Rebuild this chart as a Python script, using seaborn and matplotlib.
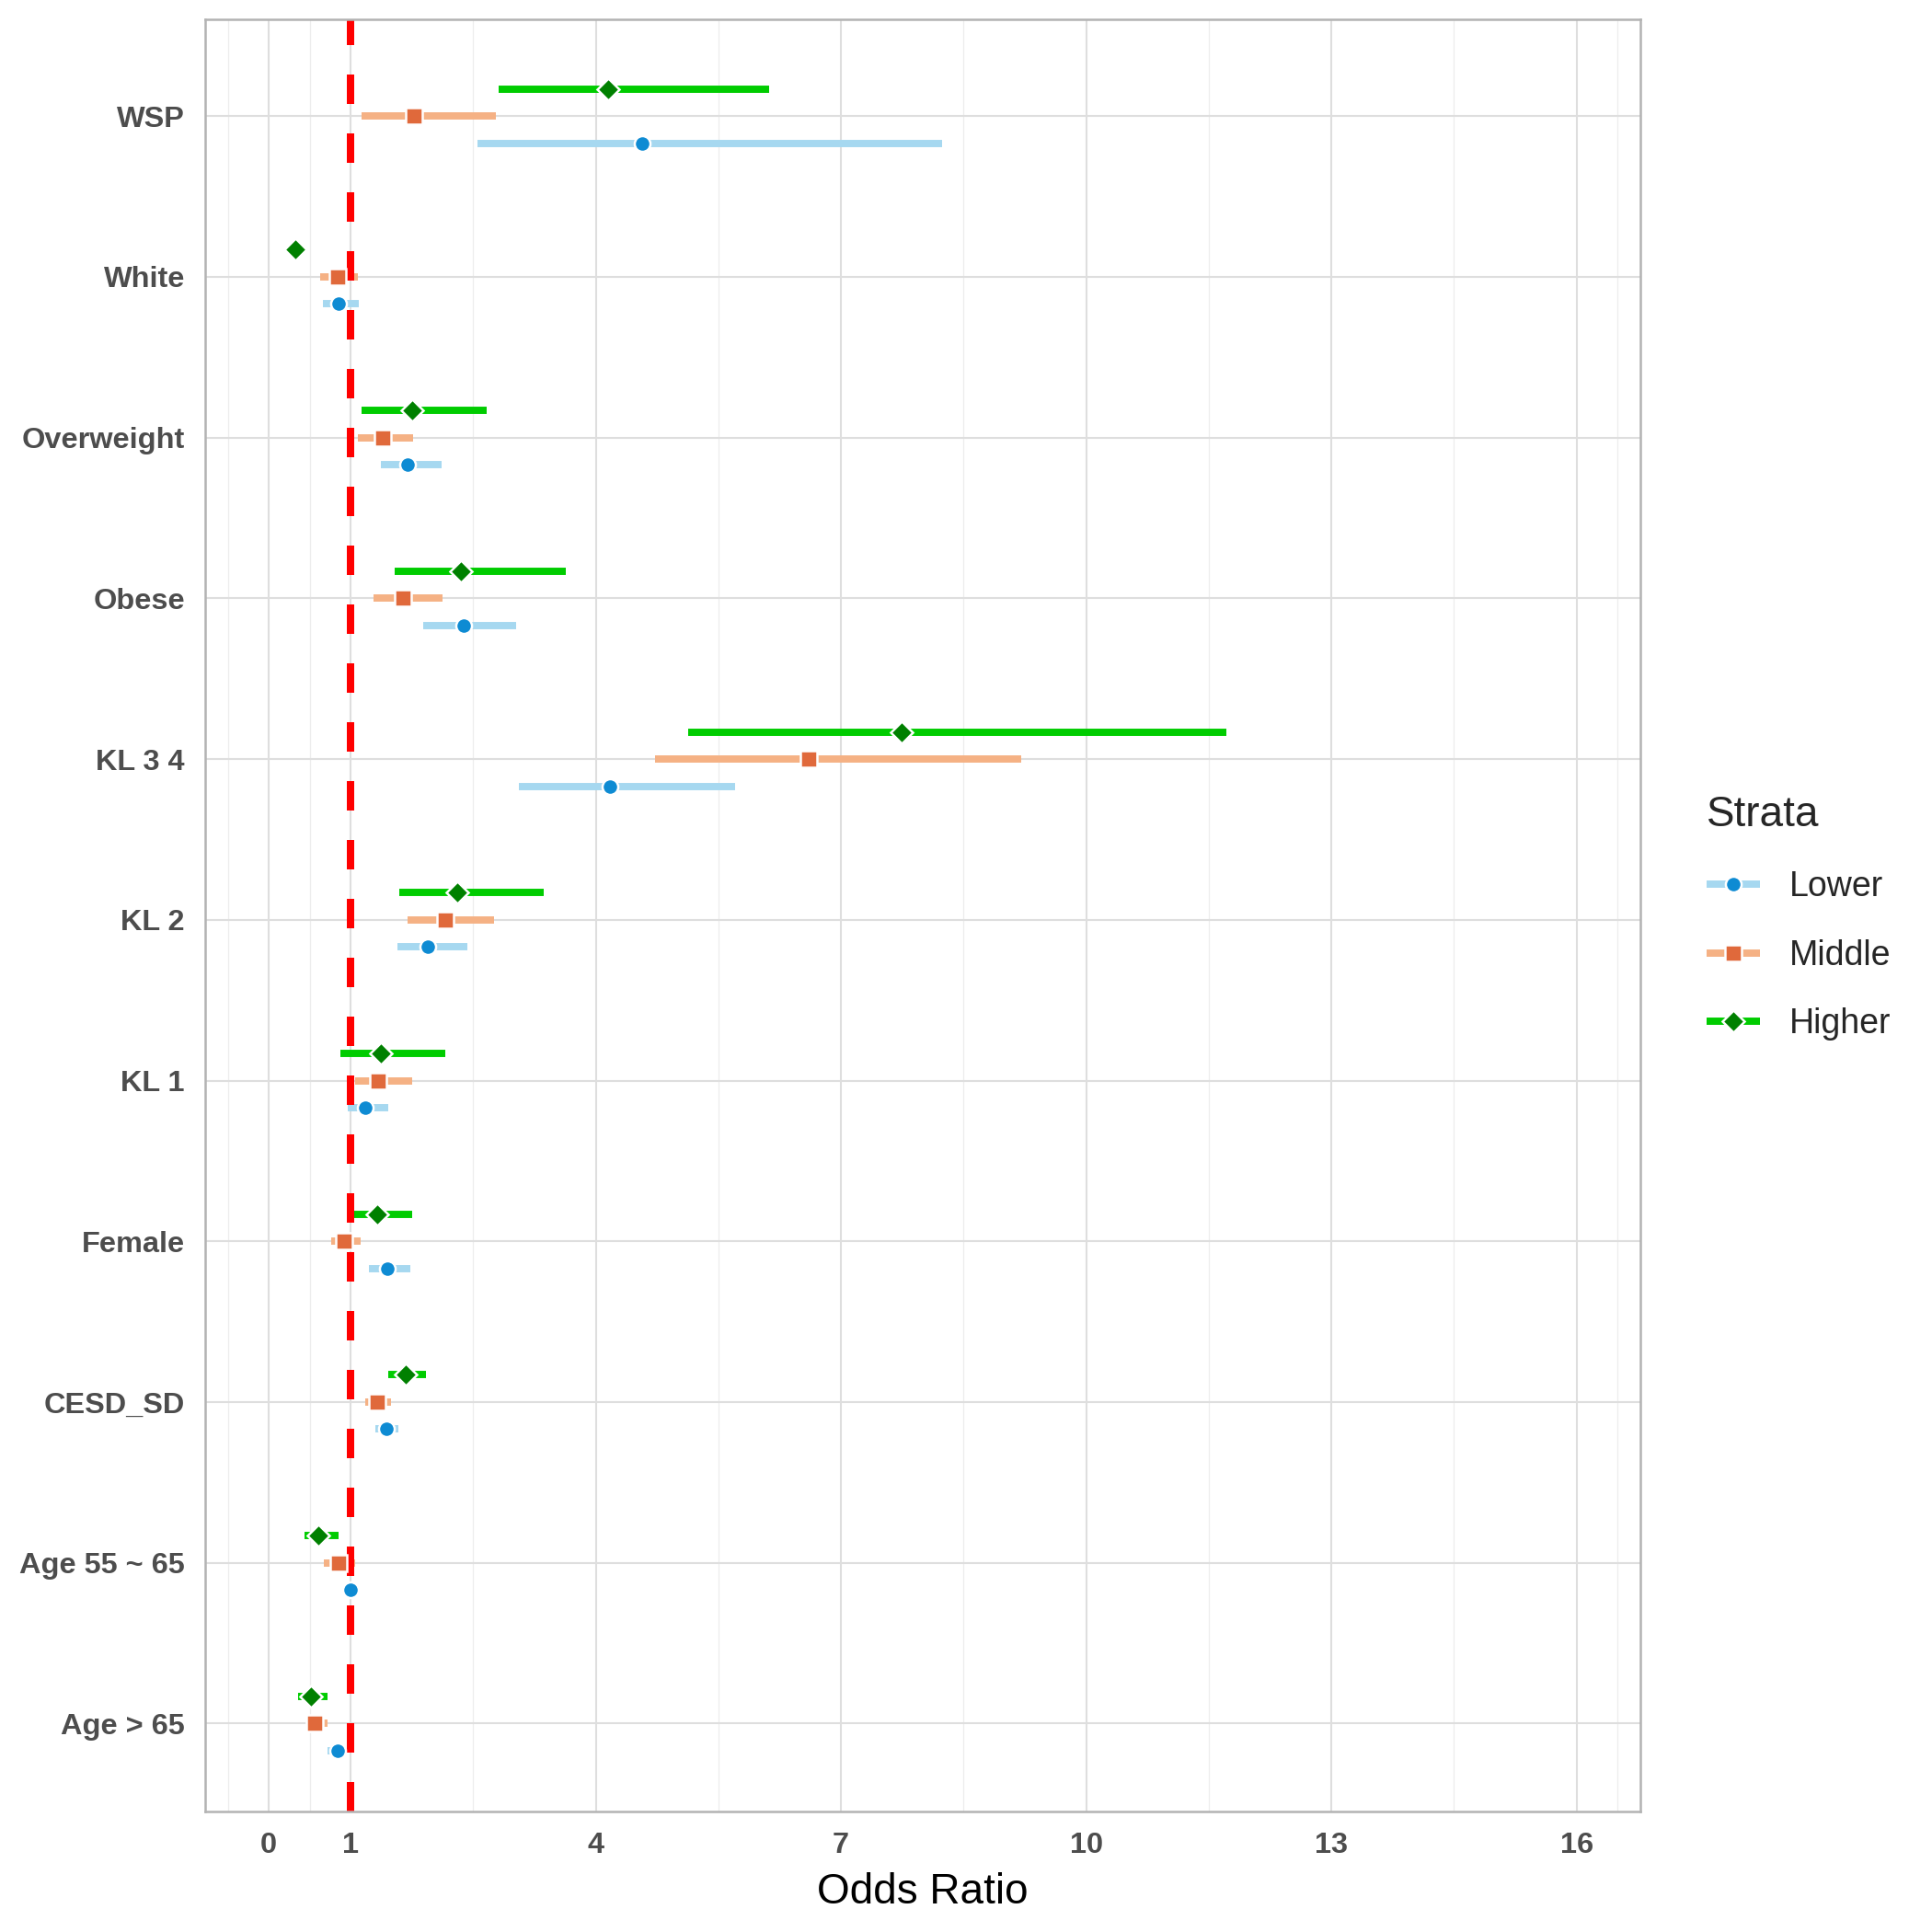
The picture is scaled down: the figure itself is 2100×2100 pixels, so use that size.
import numpy as np
import pandas as pd
import matplotlib
matplotlib.use('Agg')
import matplotlib.pyplot as plt
from matplotlib.lines import Line2D
import seaborn as sns

# ------------------------------------------------------------
# data: odds ratios with 95% CI
# ------------------------------------------------------------
variables = ["WSP", "White", "Overweight", "Obese", "KL 3 4", "KL 2",
             "KL 1", "Female", "CESD_SD", "Age 55 ~ 65", "Age > 65"]
strata = ["Lower", "Middle", "Higher"]

lower_or = [4.57, 0.85, 1.70, 2.38, 4.17, 1.95, 1.18, 1.45, 1.44, 1.00, 0.845]
lower_lo = [2.55, 0.66, 1.37, 1.89, 3.06, 1.57, 0.97, 1.22, 1.30, 0.95, 0.72]
lower_hi = [8.24, 1.10, 2.11, 3.03, 5.70, 2.43, 1.46, 1.73, 1.58, 1.05, 0.93]

middle_or = [1.78, 0.84, 1.39, 1.64, 6.60, 2.16, 1.34, 0.92, 1.33, 0.85, 0.565]
middle_lo = [1.13, 0.63, 1.09, 1.28, 4.72, 1.70, 1.06, 0.76, 1.18, 0.67, 0.48]
middle_hi = [2.78, 1.09, 1.76, 2.13, 9.20, 2.75, 1.75, 1.12, 1.49, 1.06, 0.72]

higher_or = [4.15, 0.32, 1.75, 2.35, 7.74, 2.31, 1.37, 1.33, 1.68, 0.61, 0.51]
higher_lo = [2.81, 0.27, 1.13, 1.54, 5.13, 1.60, 0.87, 1.03, 1.46, 0.44, 0.36]
higher_hi = [6.12, 0.38, 2.67, 3.63, 11.72, 3.36, 2.16, 1.75, 1.92, 0.85, 0.72]

x_ticks = [0, 1, 4, 7, 10, 13, 16]
x_minor = [-0.5, 0.5, 2.5, 5.5, 8.5, 11.5, 14.5, 16.5]

ci_colors = {"Lower": "#A6D8F0", "Middle": "#F5B184", "Higher": "#00CC00"}
pt_colors = {"Lower": "#0E8BD3", "Middle": "#E0693B", "Higher": "#008000"}
markers = {"Lower": "o", "Middle": "s", "Higher": "D"}

# long table: three rows (lo, or, hi) per variable/stratum
# -> median gives the OR, min/max gives the CI
rows = []
series = {"Lower": (lower_lo, lower_or, lower_hi),
          "Middle": (middle_lo, middle_or, middle_hi),
          "Higher": (higher_lo, higher_or, higher_hi)}
for name, (los, ors, his) in series.items():
    for v, l, o, h in zip(variables, los, ors, his):
        for val in (l, o, h):
            rows.append({"variable": v, "strata": name, "value": val})
df = pd.DataFrame(rows)

# ------------------------------------------------------------
# plot
# ------------------------------------------------------------
sns.set_theme(style="whitegrid")
plt.rcParams['font.family'] = ['Liberation Sans', 'DejaVu Sans']

fig = plt.figure(figsize=(7, 7), dpi=300)
ax = fig.add_axes([0.106, 0.0624, 0.743, 0.9274])

hue_order = ["Higher", "Middle", "Lower"]   # higher sits on top

# CI bars
sns.pointplot(data=df, x="value", y="variable", hue="strata",
              order=variables, hue_order=hue_order,
              estimator="median", errorbar=lambda v: (v.min(), v.max()),
              dodge=0.338, palette=ci_colors, markers="", linestyle="none",
              err_kws={"linewidth": 1.9, "solid_capstyle": "butt"},
              legend=False, ax=ax)

# reference line at OR = 1
ax.axvline(1, color="#FF0000", lw=1.92, dashes=(4, 4), zorder=2.5)

# point estimates
sns.pointplot(data=df, x="value", y="variable", hue="strata",
              order=variables, hue_order=hue_order,
              estimator="median", errorbar=None,
              dodge=0.338, palette=pt_colors,
              markers=[markers[s] for s in hue_order], linestyle="none",
              markersize=4.1, markeredgecolor="white", markeredgewidth=0.6,
              zorder=3, legend=False, ax=ax)

# axes styling (ggplot theme_light look)
ax.set_xlim(-0.784, 16.78)
ax.set_ylim(10.547, -0.60)
ax.set_xticks(x_ticks)
ax.set_xticks(x_minor, minor=True)
ax.yaxis.grid(True)
ax.grid(which="major", color="#DEDEDE", lw=0.5)
ax.xaxis.grid(True, which="minor", color="#EDEDED", lw=0.3)
ax.set_axisbelow(True)

ax.tick_params(axis="both", which="major", length=2.6, width=0.5,
               color="#B3B3B3", labelsize=7.8, labelcolor="#4D4D4D", pad=2.6)
ax.tick_params(axis="x", which="minor", length=0)
for lab in ax.get_xticklabels() + ax.get_yticklabels():
    lab.set_fontweight("bold")

for sp in ax.spines.values():
    sp.set_visible(True)
    sp.set_color("#B3B3B3")
    sp.set_linewidth(0.6)

ax.set_xlabel("Odds Ratio", fontsize=11, color="black", labelpad=3.5)
ax.set_ylabel("")

# legend
handles = [Line2D([], [], color=ci_colors[s], lw=1.9, solid_capstyle="butt",
                  marker=markers[s], markerfacecolor=pt_colors[s],
                  markeredgecolor="white", markeredgewidth=0.6, markersize=4.1)
           for s in strata]
fig.legend(handles, strata, title="Strata", loc="center left",
           bbox_to_anchor=(0.876, 0.525), frameon=False, fontsize=9,
           title_fontsize=11, handlelength=1.55, handletextpad=0.85,
           labelspacing=1.02, alignment="left", borderaxespad=0)

fig.savefig("out.png", dpi=300, facecolor="white")
